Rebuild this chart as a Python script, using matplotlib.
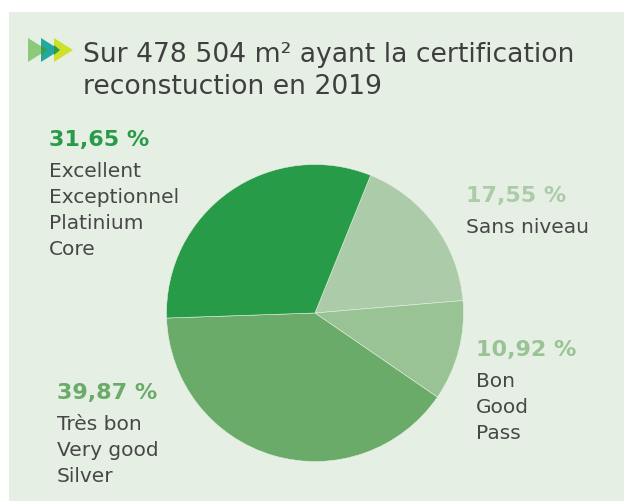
import matplotlib
matplotlib.use('Agg')
import matplotlib.pyplot as plt
from matplotlib.patches import Rectangle, Polygon

# data
categories = ['Sans niveau', 'Bon\nGood\nPass', 'Très bon\nVery good\nSilver',
              'Excellent\nExceptionnel\nPlatinium\nCore']
shares = [17.55, 10.92, 39.87, 31.65]
slice_colors = ['#ACCBA8', '#99C394', '#6BAB6A', '#289B48']
title_lines = ['Sur 478 504 m² ayant la certification', 'reconstuction en 2019']

W, H = 624, 501
BG = '#E5EFE4'
TEXT = '#474747'

# label anchors in pixels (x, baseline of the percentage)
label_pos = [(466, 202), (476, 356), (57, 399), (49, 146)]


def px(x, y):
    return x / W, 1 - y / H


def fmt_pct(v):
    return f'{v:.2f}'.replace('.', ',') + ' %'


fig = plt.figure(figsize=(W / 100, H / 100), dpi=100)
fig.patch.set_facecolor('white')
fig.patches.append(Rectangle(px(9, H), (W - 9) / W, (H - 12) / H,
                             transform=fig.transFigure, facecolor=BG,
                             edgecolor='none', zorder=-5))

# icon: three overlapping arrows
icon = fig.add_axes([0, 0, 1, 1], facecolor='none')
icon.set_xlim(0, W)
icon.set_ylim(H, 0)
icon.axis('off')
tris = [(28, '#8CC97A'), (41, '#22A8A0'), (54, '#CFE02A')]
for x0, c in tris:
    icon.add_patch(Polygon([(x0, 38), (x0, 62), (x0 + 19, 50)], closed=True,
                           facecolor=c, edgecolor='none'))
for x0, c in [(41, '#3A9F4A'), (54, '#2B9B48')]:
    icon.add_patch(Polygon([(x0, 45), (x0, 55), (x0 + 6, 50)], closed=True,
                           facecolor=c, edgecolor='none'))

# title
for i, line in enumerate(title_lines):
    fig.text(*px(83, 62 + i * 32), line, fontsize=19.2, color='#3F3F3F',
             va='baseline', ha='left')

# pie
ax = fig.add_axes([165 / W, 38 / H, 300 / W, 300 / H])
ax.pie(shares, colors=slice_colors, startangle=68, counterclock=False,
       radius=1, wedgeprops=dict(edgecolor=BG, linewidth=0.4))
ax.set_xlim(-1.01, 1.01)
ax.set_ylim(-1.01, 1.01)
ax.set_aspect('equal')
ax.axis('off')

# labels
for (x, y), v, cat, c in zip(label_pos, shares, categories, slice_colors):
    fig.text(*px(x, y), fmt_pct(v), fontsize=16, fontweight='bold',
             color=c, va='baseline', ha='left')
    for j, line in enumerate(cat.split('\n')):
        fig.text(*px(x, y + 31 + j * 26), line, fontsize=14.5, color=TEXT,
                 va='baseline', ha='left')

fig.savefig('out.png', dpi=100, facecolor=fig.get_facecolor())
